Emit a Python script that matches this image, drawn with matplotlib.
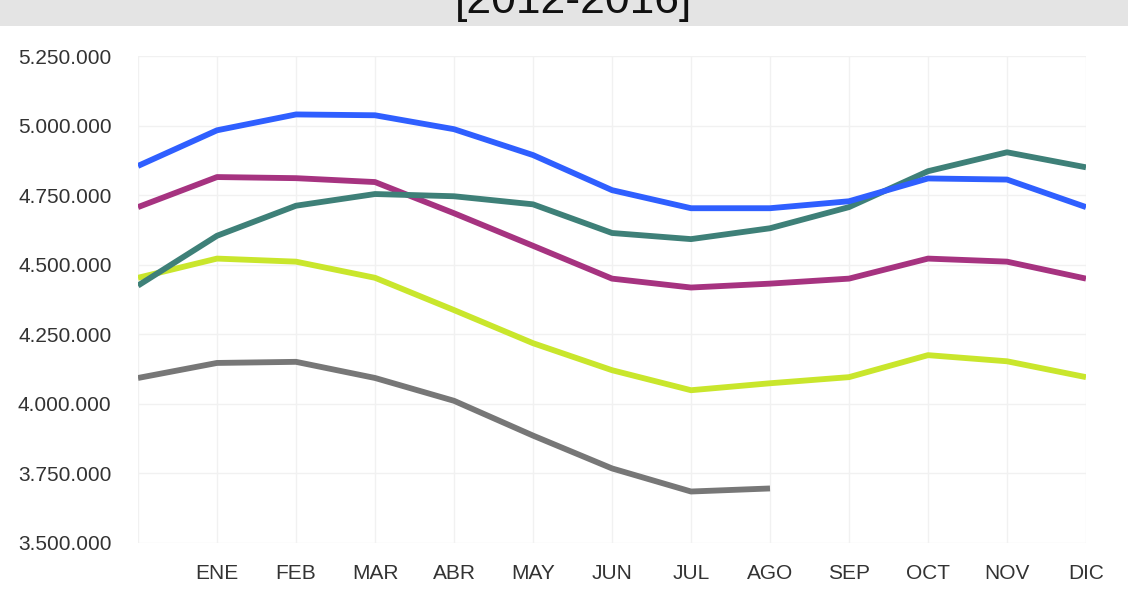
import matplotlib.pyplot as plt
from matplotlib.ticker import FuncFormatter
from matplotlib.patches import Rectangle

# months (first point has no label)
months = ['', 'ENE', 'FEB', 'MAR', 'ABR', 'MAY', 'JUN', 'JUL', 'AGO', 'SEP', 'OCT', 'NOV', 'DIC']

# values
blue = [4855000, 4983000, 5040000, 5037000, 4987000, 4894000, 4768000, 4703000, 4703000, 4728000, 4810000, 4806000, 4707000]
teal = [4425000, 4604000, 4712000, 4754000, 4746000, 4717000, 4614000, 4592000, 4631000, 4707000, 4836000, 4904000, 4850000]
magenta = [4707000, 4815000, 4811000, 4797000, 4685000, 4568000, 4450000, 4418000, 4432000, 4450000, 4522000, 4511000, 4450000]
lime = [4453000, 4522000, 4511000, 4453000, 4337000, 4218000, 4121000, 4049000, 4074000, 4096000, 4175000, 4153000, 4096000]
grey = [4093000, 4147000, 4151000, 4093000, 4011000, 3886000, 3768000, 3685000, 3696000]

plt.rcParams['font.family'] = ['Liberation Sans', 'DejaVu Sans']

fig = plt.figure(figsize=(11.28, 5.91), dpi=100)
ax = fig.add_axes([138 / 1128, 1 - 543 / 591, (1086 - 138) / 1128, (543 - 56) / 591])

# grey title band at the top (text cut off as in the reference)
fig.patches.append(Rectangle((0, 1 - 26 / 591), 1, 26 / 591, transform=fig.transFigure,
                             facecolor='#e4e4e4', edgecolor='none', zorder=0))
fig.text(0.508, 1 - 13 / 591, '[2012-2016]', ha='center', va='baseline',
         fontsize=32, color='#111111')

x = list(range(len(months)))
lw = 4.2
ax.plot(x, lime, color='#c9e62c', lw=lw, solid_capstyle='butt', zorder=3)
ax.plot(x[:len(grey)], grey, color='#777777', lw=lw, solid_capstyle='butt', zorder=3)
ax.plot(x, magenta, color='#a63380', lw=lw, solid_capstyle='butt', zorder=3)
ax.plot(x, teal, color='#3e8078', lw=lw, solid_capstyle='butt', zorder=4)
ax.plot(x, blue, color='#2f5fff', lw=lw, solid_capstyle='butt', zorder=5)

ax.set_xlim(0, 12)
ax.set_ylim(3500000, 5250000)
ax.set_yticks(range(3500000, 5250001, 250000))
ax.yaxis.set_major_formatter(FuncFormatter(lambda v, p: f'{int(v):,}'.replace(',', '.')))
ax.set_xticks(x)
ax.set_xticklabels(months)

ax.grid(True, color='#f1f1f1', lw=1)
ax.set_axisbelow(True)
for s in ax.spines.values():
    s.set_visible(False)
ax.tick_params(axis='both', length=0, labelsize=15, colors='#333333')
ax.tick_params(axis='y', pad=19)
ax.tick_params(axis='x', pad=15)

plt.savefig('out.png', dpi=100)
